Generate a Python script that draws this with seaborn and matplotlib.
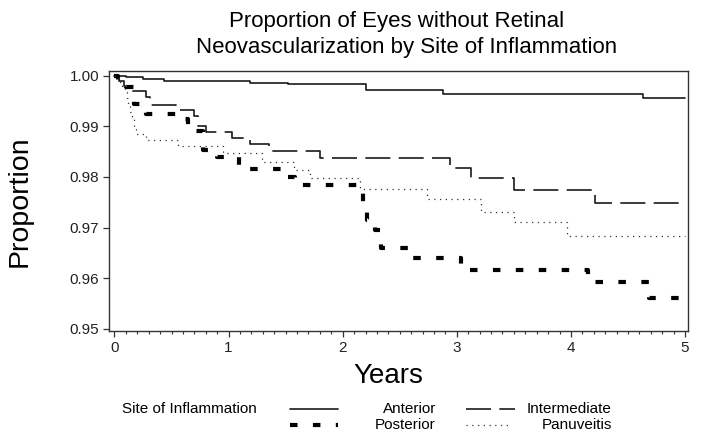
import matplotlib
matplotlib.use("Agg")
import matplotlib.pyplot as plt
import seaborn as sns
import pandas as pd
from matplotlib.lines import Line2D
from matplotlib.ticker import MultipleLocator, FormatStrFormatter

# ---------------- data ----------------
title_line1 = "Proportion of Eyes without Retinal"
title_line2 = "Neovascularization by Site of Inflammation"
x_label = "Years"
y_label = "Proportion"
legend_title = "Site of Inflammation"
groups = ["Anterior", "Intermediate", "Posterior", "Panuveitis"]

anterior_t = [0, 0.05, 0.10, 0.25, 0.43, 1.19, 1.52, 2.20, 2.88, 4.63, 5.0]
anterior_s = [1.0, 0.9999, 0.9997, 0.9993, 0.9990, 0.9986, 0.9983, 0.9972, 0.9964, 0.9955, 0.9955]

intermediate_t = [0, 0.04, 0.08, 0.12, 0.28, 0.31, 0.54, 0.70, 0.73, 0.80, 1.03, 1.19,
                  1.35, 1.80, 2.94, 3.12, 3.50, 4.21, 5.0]
intermediate_s = [1.0, 0.9990, 0.9980, 0.9970, 0.9958, 0.9942, 0.9932, 0.9920, 0.9900, 0.9888,
                  0.9876, 0.9865, 0.9852, 0.9837, 0.9817, 0.9797, 0.9774, 0.9749, 0.9749]

posterior_t = [0, 0.03, 0.06, 0.10, 0.17, 0.28, 0.54, 0.64, 0.78, 0.90, 1.09, 1.50, 1.58,
               2.15, 2.18, 2.21, 2.28, 2.34, 2.57, 3.04, 4.15, 4.68, 5.0]
posterior_s = [1.0, 0.9992, 0.9985, 0.9978, 0.9945, 0.9925, 0.9914, 0.9890, 0.9853, 0.9840,
               0.9815, 0.9800, 0.9784, 0.9770, 0.9745, 0.9715, 0.9695, 0.9660, 0.9640, 0.9617,
               0.9592, 0.9560, 0.9560]

panuveitis_t = [0, 0.03, 0.05, 0.07, 0.09, 0.11, 0.12, 0.14, 0.15, 0.17, 0.19, 0.28, 0.56,
                0.95, 1.29, 1.57, 1.71, 2.15, 2.74, 3.21, 3.50, 3.97, 5.0]
panuveitis_s = [1.0, 0.9995, 0.9988, 0.9978, 0.9968, 0.9955, 0.9942, 0.9928, 0.9916, 0.9896,
                0.9885, 0.9873, 0.9862, 0.9847, 0.9830, 0.9814, 0.9797, 0.9777, 0.9757, 0.9731,
                0.9710, 0.9684, 0.9684]

x_ticks = [0, 1, 2, 3, 4, 5]
y_ticks = [0.95, 0.96, 0.97, 0.98, 0.99, 1.00]

# ---------------- style ----------------
sns.set_style("ticks")
plt.rcParams["font.family"] = ["Liberation Sans", "DejaVu Sans"]
plt.rcParams["lines.dash_capstyle"] = "butt"

ink = "#1a1a1a"
frame = "#333333"

styles = {
    "Anterior": dict(color=ink, linewidth=1.2, linestyle="-"),
    "Intermediate": dict(color=ink, linewidth=1.2, linestyle=(0, (15, 5))),
    "Posterior": dict(color="black", linewidth=3.0, linestyle=(0, (1.8, 3.7))),
    "Panuveitis": dict(color="#333333", linewidth=0.9, linestyle=(0, (1, 3.6))),
}

series = {
    "Anterior": (anterior_t, anterior_s),
    "Intermediate": (intermediate_t, intermediate_s),
    "Posterior": (posterior_t, posterior_s),
    "Panuveitis": (panuveitis_t, panuveitis_s),
}

W, H = 701, 440
fig = plt.figure(figsize=(W / 100, H / 100), dpi=100)
ax = fig.add_axes([109 / W, 1 - 331 / H, (688 - 109) / W, (331 - 71) / H])

for g in groups:
    t, s = series[g]
    df = pd.DataFrame({"Years": t, "Proportion": s})
    sns.lineplot(data=df, x="Years", y="Proportion", ax=ax, drawstyle="steps-post",
                 estimator=None, sort=False, **styles[g])

ax.set_xlim(-0.048, 5.026)
ax.set_ylim(0.94955, 1.00093)
ax.set_xticks(x_ticks)
ax.xaxis.set_minor_locator(MultipleLocator(0.1))
ax.set_yticks(y_ticks)
ax.yaxis.set_major_formatter(FormatStrFormatter("%.2f"))
ax.tick_params(axis="both", which="major", direction="out", length=4, width=0.9,
               color=frame, labelsize=11, labelcolor="#222222", pad=3)
ax.tick_params(axis="x", which="minor", direction="out", length=2.5, width=0.8, color=frame)
for sp in ax.spines.values():
    sp.set_visible(True)
    sp.set_color(frame)
    sp.set_linewidth(1.0)

ax.set_xlabel("")
ax.set_ylabel("")
fig.text(388 / W, 1 - 376 / H, x_label, ha="center", va="center", fontsize=20, color="black")
fig.text(20 / W, 1 - 201 / H, y_label, ha="center", va="center", rotation=90,
         fontsize=20.5, color="black")

fig.text(397 / W, 1 - 21 / H, title_line1, ha="center", va="center", fontsize=16, color="black")
fig.text(407 / W, 1 - 48 / H, title_line2, ha="center", va="center", fontsize=16, color="black")

# ---------------- legend ----------------
row1, row2 = 1 - 409 / H, 1 - 425 / H
fig.text(122 / W, row1, legend_title, ha="left", va="center", fontsize=11, color="black")
legend_layout = [
    ("Anterior", 290, 338, row1, 436),
    ("Intermediate", 466, 515, row1, 612),
    ("Posterior", 290, 338, row2, 436),
    ("Panuveitis", 466, 511, row2, 612),
]
for g, x0, x1, yy, xt in legend_layout:
    fig.add_artist(Line2D([x0 / W, x1 / W], [yy, yy], transform=fig.transFigure, **styles[g]))
    fig.text(xt / W, yy, g, ha="right", va="center", fontsize=11, color="black")

fig.savefig("out.png", dpi=100)
